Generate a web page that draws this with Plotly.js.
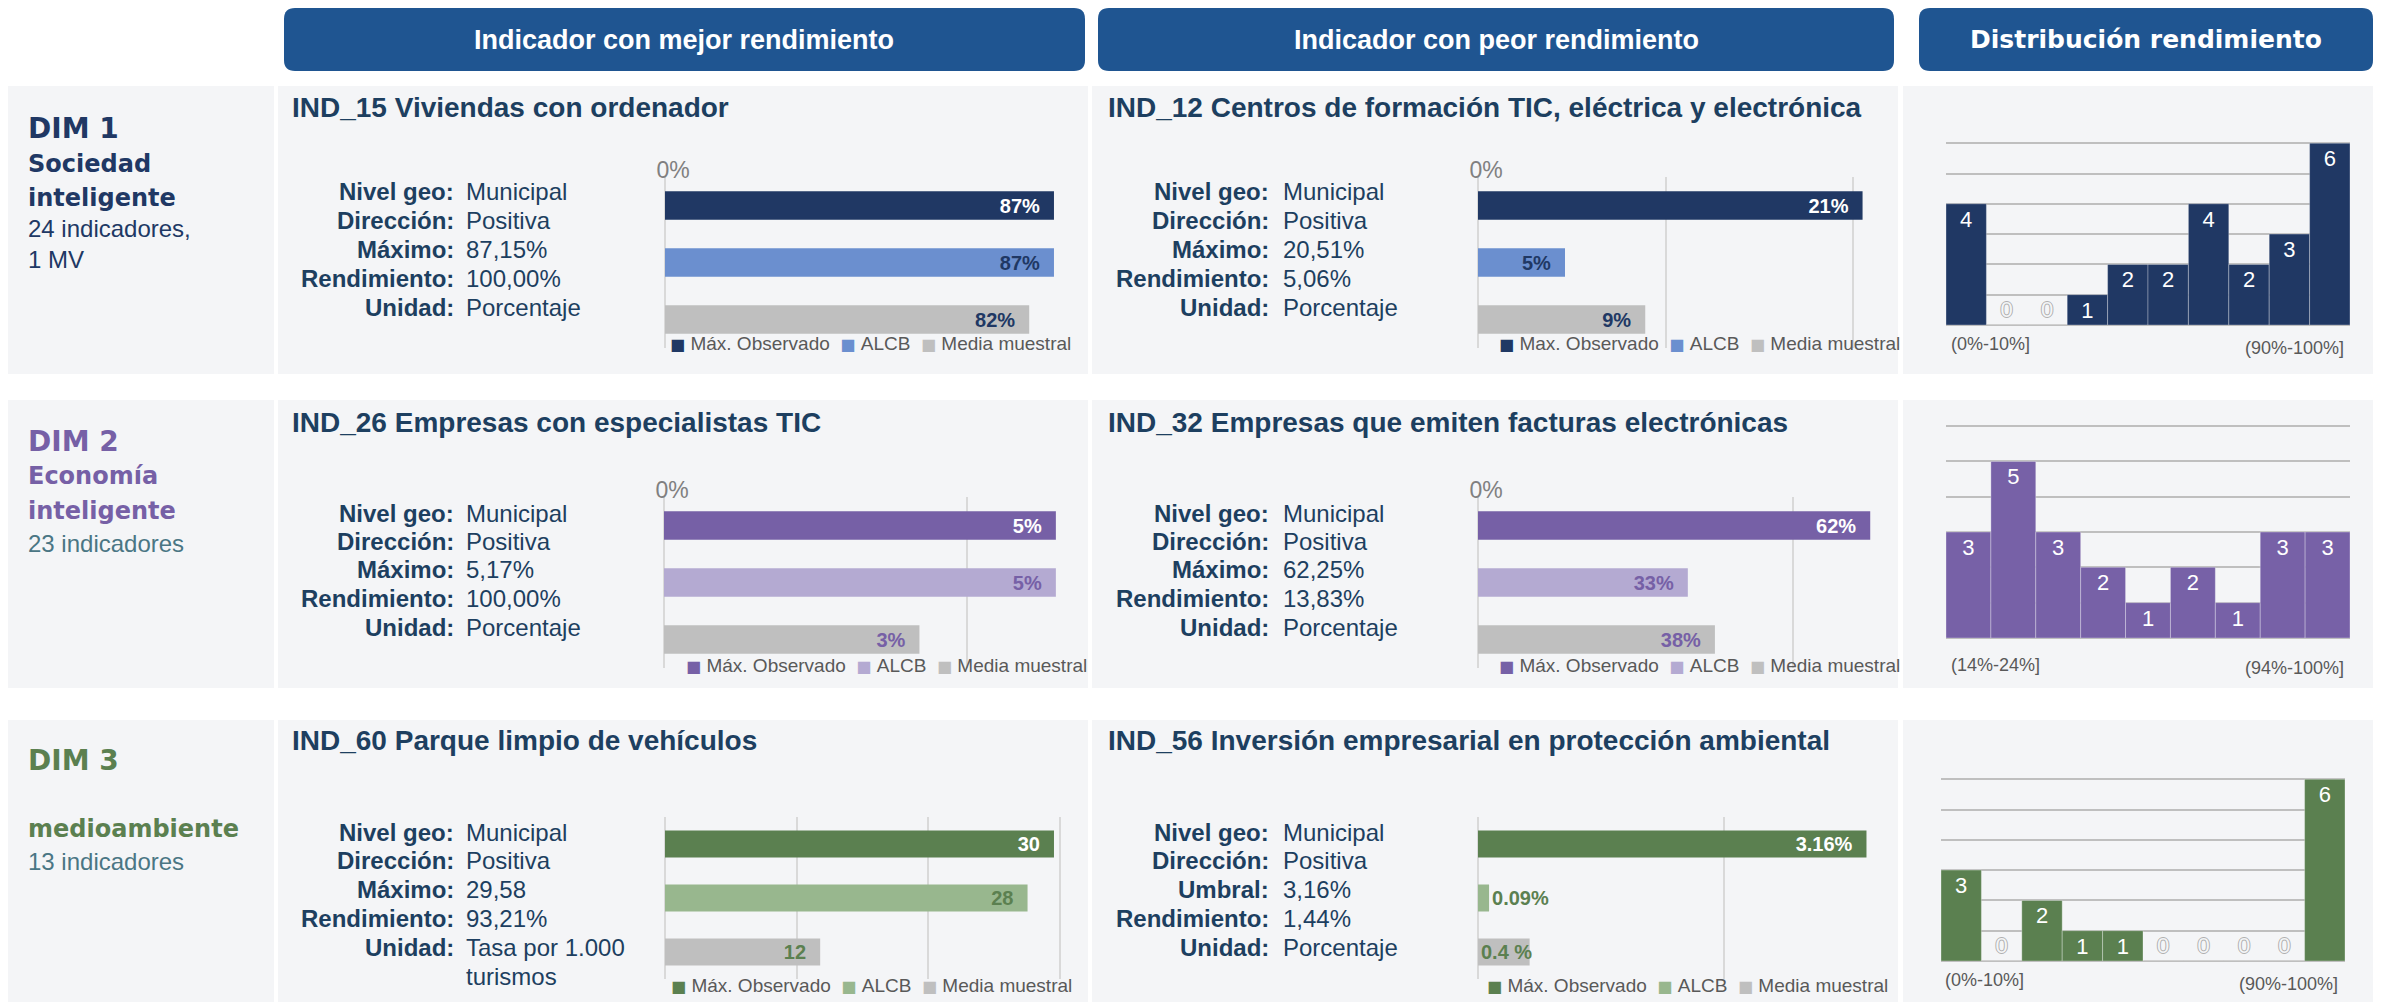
<!DOCTYPE html>
<html>
<head>
<meta charset="utf-8">
<script src="https://cdn.plot.ly/plotly-3.0.1.min.js"></script>
<style>html,body{margin:0;padding:0;background:#fff;}#chart{width:2385px;height:1002px;}</style>
</head>
<body>
<div id="chart"></div>
<script>
// ---------------- DATA ----------------
const headerTitles = ['Indicador con mejor rendimiento', 'Indicador con peor rendimiento', 'Distribución rendimiento'];

const dimCodes = ['DIM 1', 'DIM 2', 'DIM 3'];
const dimNameLines = [['Sociedad', 'inteligente'], ['Economía', 'inteligente'], ['medioambiente']];
const dimCountLines = [['24 indicadores,', '1 MV'], ['23 indicadores'], ['13 indicadores']];

const bestTitles = ['IND_15 Viviendas con ordenador', 'IND_26 Empresas con especialistas TIC', 'IND_60 Parque limpio de vehículos'];
const worstTitles = ['IND_12 Centros de formación TIC, eléctrica y electrónica', 'IND_32 Empresas que emiten facturas electrónicas', 'IND_56 Inversión empresarial en protección ambiental'];

const infoLabels = ['Nivel geo:', 'Dirección:', 'Máximo:', 'Rendimiento:', 'Unidad:'];
const infoLabelsUmbral = ['Nivel geo:', 'Dirección:', 'Umbral:', 'Rendimiento:', 'Unidad:'];
const ind15Info = ['Municipal', 'Positiva', '87,15%', '100,00%', 'Porcentaje'];
const ind12Info = ['Municipal', 'Positiva', '20,51%', '5,06%', 'Porcentaje'];
const ind26Info = ['Municipal', 'Positiva', '5,17%', '100,00%', 'Porcentaje'];
const ind32Info = ['Municipal', 'Positiva', '62,25%', '13,83%', 'Porcentaje'];
const ind60Info = ['Municipal', 'Positiva', '29,58', '93,21%', 'Tasa por 1.000|turismos'];
const ind56Info = ['Municipal', 'Positiva', '3,16%', '1,44%', 'Porcentaje'];

const seriesNames = ['Máx. Observado', 'ALCB', 'Media muestral'];
const seriesNamesNoAccent = ['Max. Observado', 'ALCB', 'Media muestral'];

const ind15Values = [87.15, 87.15, 81.6];
const ind15Labels = ['87%', '87%', '82%'];
const ind12Values = [20.51, 4.64, 8.92];
const ind12Labels = ['21%', '5%', '9%'];
const ind26Values = [5.17, 5.17, 3.37];
const ind26Labels = ['5%', '5%', '3%'];
const ind32Values = [62.25, 33.3, 37.6];
const ind32Labels = ['62%', '33%', '38%'];
const ind60Values = [29.58, 27.57, 11.8];
const ind60Labels = ['30', '28', '12'];
const ind56Values = [3.16, 0.09, 0.42];
const ind56Labels = ['3.16%', '0.09%', '0.4 %'];

const ind15Ticks = [0];
const ind12Ticks = [0, 10, 20];
const ind26Ticks = [0, 4];
const ind32Ticks = [0, 50];
const ind60Ticks = [10, 20, 30];
const ind56Ticks = [2];

const dist1Counts = [4, 0, 0, 1, 2, 2, 4, 2, 3, 6];
const dist1Edges = ['(0%-10%]', '(90%-100%]'];
const dist2Counts = [3, 5, 3, 2, 1, 2, 1, 3, 3];
const dist2Edges = ['(14%-24%]', '(94%-100%]'];
const dist3Counts = [3, 0, 2, 1, 1, 0, 0, 0, 0, 6];
const dist3Edges = ['(0%-10%]', '(90%-100%]'];

// ---------------- STYLE / LAYOUT ----------------
const W = 2385, H = 1002;
const px = x => x / W;
const py = y => 1 - y / H;
const FONT = 'Liberation Sans, Arial, sans-serif';
const HEAVY = 'DejaVu Sans, Liberation Sans, sans-serif';
const PANEL = '#f4f5f7';
const HEADER = '#1f5591';
const TITLE_C = '#1d3f60';
const NBSP = '\u00a0';

const rowColors = [['#203864', '#6b8fcf', '#bfbfbf'], ['#7660a6', '#b4aad2', '#bfbfbf'], ['#5b8050', '#98b78e', '#bfbfbf']];
const rowLabelColors = [['#ffffff', '#203864', '#203864'], ['#ffffff', '#7660a6', '#7660a6'], ['#ffffff', '#5b8050', '#5b8050']];
const dimColors = ['#203864', '#7660a6', '#5b8050'];
const countColors = ['#203864', '#4a7684', '#4a7684'];
const histColors = ['#203864', '#7761a7', '#5b8050'];

const rows = [
  {top: 86, bottom: 374, titleY: 108, infoY: [192, 220, 249, 278, 307], plotY: [177, 348], legendY: 344,
   codeY: 128, nameY: [164, 198], countY: [229, 259]},
  {top: 400, bottom: 688, titleY: 423, infoY: [513, 541, 569, 598, 627], plotY: [497, 668], legendY: 665,
   codeY: 441, nameY: [476, 511], countY: [543]},
  {top: 720, bottom: 1002, titleY: 740, infoY: [832, 860, 889, 918, 947], plotY: [817, 979], legendY: 985,
   codeY: 760, nameY: [829], countY: [861]}
];

const shapes = [];
const annotations = [];
const traces = [];
const layout = {
  width: W, height: H, margin: {l: 0, r: 0, t: 0, b: 0},
  paper_bgcolor: '#ffffff', plot_bgcolor: 'rgba(0,0,0,0)',
  barmode: 'overlay', showlegend: false, font: {family: FONT},
  shapes: shapes, annotations: annotations
};

function rect(x0, y0, x1, y1, color) {
  shapes.push({type: 'rect', xref: 'paper', yref: 'paper', x0: px(x0), x1: px(x1), y0: py(y1), y1: py(y0),
    fillcolor: color, line: {width: 0}, layer: 'below'});
}
function roundRect(x0, y0, x1, y1, r, color) {
  const P = (x, y) => px(x) + ',' + py(y);
  const path = 'M' + P(x0 + r, y0) + ' L' + P(x1 - r, y0) + ' Q' + P(x1, y0) + ' ' + P(x1, y0 + r) +
    ' L' + P(x1, y1 - r) + ' Q' + P(x1, y1) + ' ' + P(x1 - r, y1) + ' L' + P(x0 + r, y1) +
    ' Q' + P(x0, y1) + ' ' + P(x0, y1 - r) + ' L' + P(x0, y0 + r) + ' Q' + P(x0, y0) + ' ' + P(x0 + r, y0) + ' Z';
  shapes.push({type: 'path', xref: 'paper', yref: 'paper', path: path, fillcolor: color, line: {width: 0}, layer: 'below'});
}
function label(t, x, y, font, xanchor) {
  annotations.push({text: t, xref: 'paper', yref: 'paper', x: px(x), y: py(y), showarrow: false,
    xanchor: xanchor || 'left', yanchor: 'middle', font: font, borderpad: 0});
}

// Headers
const headerBoxes = [[284, 1085], [1098, 1894], [1919, 2373]];
headerBoxes.forEach((b, i) => {
  roundRect(b[0], 8, b[1], 71, 11, HEADER);
  label(headerTitles[i], (b[0] + b[1]) / 2, 40,
    {family: i === 2 ? HEAVY : FONT, size: i === 2 ? 25 : 27, color: '#ffffff', weight: 'bold'}, 'center');
});

// Panels
rows.forEach(r => {
  rect(8, r.top, 274, r.bottom, PANEL);
  rect(278, r.top, 1088, r.bottom, PANEL);
  rect(1092, r.top, 1898, r.bottom, PANEL);
  rect(1903, r.top, 2373, r.bottom, PANEL);
});

// Dimension texts
rows.forEach((r, i) => {
  label(dimCodes[i], 27, r.codeY, {family: HEAVY, size: 28, color: dimColors[i], weight: 'bold'});
  dimNameLines[i].forEach((t, k) => label(t, 27, r.nameY[k], {family: HEAVY, size: 24, color: dimColors[i], weight: 'bold'}));
  dimCountLines[i].forEach((t, k) => label(t, 27, r.countY[k], {family: FONT, size: 24, color: countColors[i]}));
});

// Bar panels
const barPanels = [
  {row: 0, col: 'best', title: bestTitles[0], labels: infoLabels, info: ind15Info, names: seriesNames, values: ind15Values, text: ind15Labels, ticks: ind15Ticks, plotX: [665, 1060], range: 88.5, legendX: 670},
  {row: 0, col: 'worst', title: worstTitles[0], labels: infoLabels, info: ind12Info, names: seriesNamesNoAccent, values: ind12Values, text: ind12Labels, ticks: ind12Ticks, plotX: [1478, 1880], range: 21.44, legendX: 1499},
  {row: 1, col: 'best', title: bestTitles[1], labels: infoLabels, info: ind26Info, names: seriesNames, values: ind26Values, text: ind26Labels, ticks: ind26Ticks, plotX: [664, 1068], range: 5.33, legendX: 686},
  {row: 1, col: 'worst', title: worstTitles[1], labels: infoLabels, info: ind32Info, names: seriesNames, values: ind32Values, text: ind32Labels, ticks: ind32Ticks, plotX: [1478, 1880], range: 63.8, legendX: 1499},
  {row: 2, col: 'best', title: bestTitles[2], labels: infoLabels, info: ind60Info, names: seriesNames, values: ind60Values, text: ind60Labels, ticks: ind60Ticks, plotX: [665, 1062], range: 30.19, legendX: 671},
  {row: 2, col: 'worst', title: worstTitles[2], labels: infoLabelsUmbral, info: ind56Info, names: seriesNames, values: ind56Values, text: ind56Labels, ticks: ind56Ticks, plotX: [1478, 1880], range: 3.27, legendX: 1487,
   positions: ['inside', 'outside', 'inside'], anchors: ['end', 'end', 'start']}
];
const colX = {best: {title: 291, labelRight: 455, valueLeft: 465}, worst: {title: 1107, labelRight: 1270, valueLeft: 1282}};

barPanels.forEach((p, idx) => {
  const n = idx + 1;
  const r = rows[p.row];
  const cx = colX[p.col];
  const xa = n === 1 ? 'xaxis' : 'xaxis' + n;
  const ya = n === 1 ? 'yaxis' : 'yaxis' + n;
  // title
  label(p.title, cx.title, r.titleY, {family: FONT, size: 28, color: TITLE_C, weight: 'bold'});
  // info block
  p.labels.forEach((t, k) => label(t, cx.labelRight, r.infoY[k], {family: FONT, size: 24, color: TITLE_C, weight: 'bold'}, 'right'));
  p.info.forEach((t, k) => t.split('|').forEach((line, j) =>
    label(line, cx.valueLeft, r.infoY[k] + j * 29, {family: FONT, size: 24, color: TITLE_C})));
  // axes
  layout[xa] = {domain: [px(p.plotX[0]), px(p.plotX[1])], range: [0, p.range], side: 'top', anchor: n === 1 ? 'y' : 'y' + n,
    tickvals: p.ticks, ticktext: p.ticks.map(v => v === 0 ? '0%' : ''), ticks: '',
    ticklabelstandoff: -7, ticklabelshift: 8,
    tickfont: {family: FONT, size: 23, color: '#808080'},
    showgrid: true, gridcolor: '#d9d9d9', gridwidth: 2, zeroline: true, zerolinecolor: '#d9d9d9', zerolinewidth: 2,
    showline: false, fixedrange: true};
  layout[ya] = {domain: [py(r.plotY[1]), py(r.plotY[0])], type: 'category', categoryarray: p.names, autorange: 'reversed',
    anchor: n === 1 ? 'x' : 'x' + n, showticklabels: false, showgrid: false, zeroline: false, showline: false, ticks: '', fixedrange: true};
  // legend (series name keys)
  const legendText = p.names.map((nm, k) =>
    '<span style="color:' + rowColors[p.row][k] + ';font-family:DejaVu Sans;font-size:16px">■</span>' + NBSP + nm)
    .join(NBSP + NBSP);
  label(legendText, p.legendX - 1, r.legendY, {family: FONT, size: 19, color: '#595959'}, 'left');
  p.names.forEach((name, k) => {
    const pos = p.positions ? p.positions[k] : 'inside';
    const anc = p.anchors ? p.anchors[k] : 'end';
    traces.push({type: 'bar', orientation: 'h', x: [p.values[k]], y: [name], name: name,
      xaxis: n === 1 ? 'x' : 'x' + n, yaxis: n === 1 ? 'y' : 'y' + n,
      width: 0.5, marker: {color: rowColors[p.row][k], line: {width: 0}},
      text: [p.text[k]], texttemplate: (pos === 'inside' && anc === 'end') ? '%{text}' + NBSP + NBSP : '%{text}',
      textposition: pos, insidetextanchor: anc, textangle: 0,
      constraintext: 'none', cliponaxis: false,
      textfont: {family: FONT, size: 20, color: rowLabelColors[p.row][k], weight: 'bold'},
      hoverinfo: 'skip', showlegend: false});
  });
});

// Histograms
const histPanels = [
  {counts: dist1Counts, edges: dist1Edges, ymax: 7, plotX: [1946, 2350], plotY: [112, 325], edgeX: [1950, 2345], edgeY: [344, 348]},
  {counts: dist2Counts, edges: dist2Edges, ymax: 6, plotX: [1946, 2350], plotY: [425, 638], edgeX: [1950, 2345], edgeY: [665, 668]},
  {counts: dist3Counts, edges: dist3Edges, ymax: 7, plotX: [1941, 2345], plotY: [748, 961], edgeX: [1944, 2339], edgeY: [980, 984]}
];
histPanels.forEach((h, i) => {
  const n = 7 + i;
  layout['xaxis' + n] = {domain: [px(h.plotX[0]), px(h.plotX[1])], range: [-0.5, h.counts.length - 0.5], anchor: 'y' + n,
    showticklabels: false, showgrid: false, zeroline: false, showline: false, ticks: '', fixedrange: true};
  layout['yaxis' + n] = {domain: [py(h.plotY[1]), py(h.plotY[0])], range: [0, h.ymax + 0.03], dtick: 1, anchor: 'x' + n,
    showticklabels: false, showgrid: true, gridcolor: '#bfbfbf', gridwidth: 2, zeroline: true, zerolinecolor: '#bfbfbf',
    zerolinewidth: 2, showline: false, ticks: '', fixedrange: true};
  traces.push({type: 'bar', x: h.counts.map((_, k) => k), y: h.counts, xaxis: 'x' + n, yaxis: 'y' + n,
    width: 1, marker: {color: histColors[i], line: {color: 'rgba(255,255,255,0.3)', width: 1}},
    text: h.counts.map(String), textposition: h.counts.map(v => v > 0 ? 'inside' : 'outside'),
    insidetextanchor: 'end', textangle: 0, cliponaxis: false, constraintext: 'none',
    insidetextfont: {family: FONT, size: 22, color: '#ffffff'},
    outsidetextfont: {family: FONT, size: 22, color: PANEL,
      shadow: '1px 0 0 #b0b0b0, -1px 0 0 #b0b0b0, 0 1px 0 #b0b0b0, 0 -1px 0 #b0b0b0'},
    hoverinfo: 'skip', showlegend: false});
  label(h.edges[0], h.edgeX[0], h.edgeY[0], {family: FONT, size: 18, color: '#595959'}, 'left');
  label(h.edges[1], h.edgeX[1], h.edgeY[1], {family: FONT, size: 18, color: '#595959'}, 'right');
});

Plotly.newPlot('chart', traces, layout, {staticPlot: true, displayModeBar: false});
</script>
</body>
</html>
